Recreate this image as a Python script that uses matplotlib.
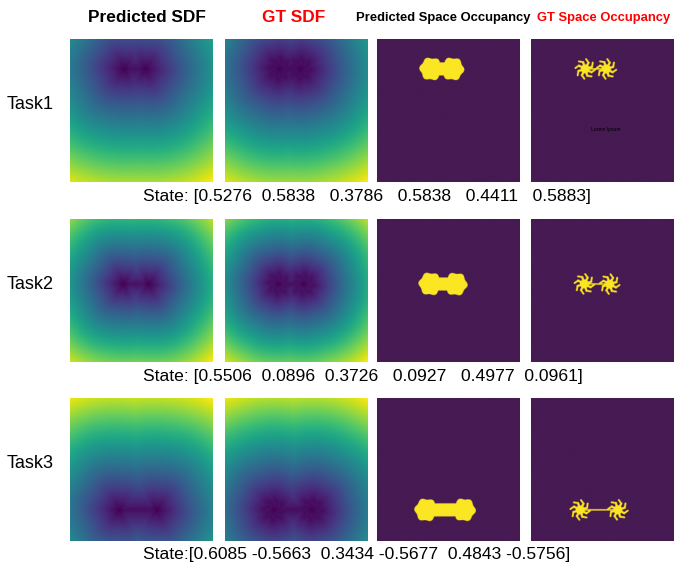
import numpy as np
import matplotlib.pyplot as plt
from matplotlib.colors import LinearSegmentedColormap

tasks = ["Task1", "Task2", "Task3"]
col_titles = ["Predicted SDF", "GT SDF", "Predicted Space Occupancy", "GT Space Occupancy"]
title_colors = ["black", "red", "black", "red"]

# state of each task: [x1, y1, x2, y2, x3, y3]
states = [
    [0.5276, 0.5838, 0.3786, 0.5838, 0.4411, 0.5883],
    [0.5506, 0.0896, 0.3726, 0.0927, 0.4977, 0.0961],
    [0.6085, -0.5663, 0.3434, -0.5677, 0.4843, -0.5756],
]
state_prefix = ["State: [", "State: [", "State:["]
state_gaps = [[2, 3, 3, 3, 3], [2, 2, 3, 3, 2], [1, 2, 1, 2, 1]]

FONT = ["Liberation Sans", "DejaVu Sans"]

# occupancy maps: free space / occupied
occ_cmap = LinearSegmentedColormap.from_list("occ", ["#461a52", "#fae622"])

N = 240
gu = np.linspace(0, 1, N)
U, V = np.meshgrid(gu, gu)


def seg_dist(a, b):
    dx, dy = b[0] - a[0], b[1] - a[1]
    t = np.clip(((U - a[0]) * dx + (V - a[1]) * dy) / (dx * dx + dy * dy), 0, 1)
    return np.hypot(U - (a[0] + t * dx), V - (a[1] + t * dy))


def pred_sdf(c1, c2):
    d = []
    for cx, cy in (c1, c2):
        th = np.arctan2(V - cy, U - cx)
        r = 0.078 + 0.006 * np.cos(6 * th + 0.5)
        d.append(np.hypot(U - cx, V - cy) - r)
    d.append(seg_dist(c1, c2) - 0.046)
    return np.minimum.reduce(d)


def gt_sdf(c1, c2):
    d = [seg_dist(c1, c2) - 0.005]
    for cx, cy in (c1, c2):
        d.append(np.hypot(U - cx, V - cy) - 0.032)
        for k in range(8):
            th = 2 * np.pi * k / 8 + 0.3
            p1 = (cx + 0.05 * np.cos(th), cy + 0.05 * np.sin(th))
            p2 = (p1[0] + 0.03 * np.cos(th + 1.1), p1[1] + 0.03 * np.sin(th + 1.1))
            d.append(seg_dist((cx, cy), p1) - 0.008)
            d.append(seg_dist(p1, p2) - 0.0065)
    return np.minimum.reduce(d)


def occupancy(sdf):
    px = 1.0 / N
    return np.clip(0.5 - sdf / px, 0, 1)


fig = plt.figure(figsize=(6.75, 5.7), dpi=100)
W, H = 675, 570
col_left = [70, 225, 377, 531]
row_top = [39, 219, 398]
size = 143

for r, st in enumerate(states):
    c1 = (st[0], (st[1] + 1) / 2)
    c2 = (st[2], (st[3] + 1) / 2)
    ps = pred_sdf(c1, c2)
    gs = gt_sdf(c1, c2)
    images = [ps, gs, occupancy(ps), occupancy(gs)]
    for c, img in enumerate(images):
        ax = fig.add_axes([col_left[c] / W, 1 - (row_top[r] + size) / H, size / W, size / H])
        if c < 2:
            ax.imshow(img, cmap="viridis", origin="lower", extent=[0, 1, -1, 1], aspect="auto")
        else:
            ax.imshow(img, cmap=occ_cmap, vmin=0, vmax=1, origin="lower",
                      extent=[0, 1, -1, 1], aspect="auto")
        ax.set_xlim(0, 1)
        ax.set_ylim(-1, 1)
        ax.axis("off")
        if r == 0 and c == 3:
            ax.text(0.52, -0.27, "Lorem Ipsum", fontsize=3.6, color="black",
                    ha="center", va="center", family=FONT)

    # row label
    fig.text(30 / W, 1 - (row_top[r] + size / 2 - 6) / H, tasks[r], fontsize=13,
             ha="center", va="center", family=FONT)

    # state line under the row
    parts = [f"{v:.4f}" for v in st]
    s = parts[0]
    for g, p in zip(state_gaps[r], parts[1:]):
        s += " " * g + p
    fig.text(143 / W, 1 - (row_top[r] + size + 14) / H, state_prefix[r] + s + "]",
             fontsize=12.6, ha="left", va="center", family=FONT)

title_fs = [12.4, 12.4, 9.4, 9.4]
title_x = [147, 294, 443, 604]
for c, t in enumerate(col_titles):
    fig.text(title_x[c] / W, 1 - 18 / H, t, fontsize=title_fs[c],
             fontweight="bold", color=title_colors[c], ha="center", va="center",
             family=FONT)

fig.savefig("out.png", dpi=100)
